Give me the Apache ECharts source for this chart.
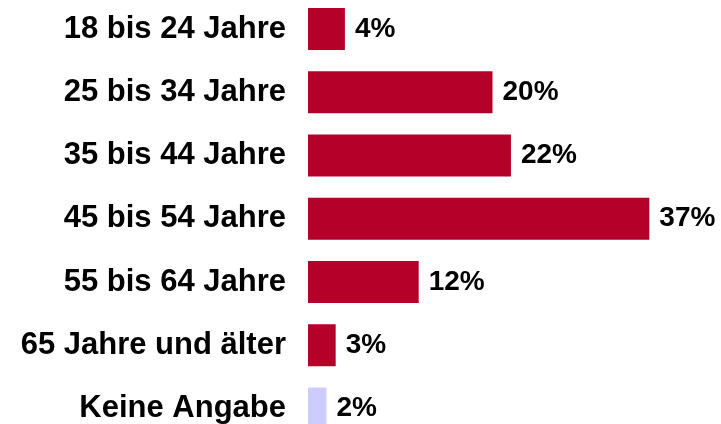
<!DOCTYPE html>
<html>
<head>
<meta charset="utf-8">
<script src="https://cdn.jsdelivr.net/npm/echarts@6/dist/echarts.min.js"></script>
<style>
  html, body { margin: 0; padding: 0; background: #fff; }
  #chart { width: 721px; height: 424px; }
</style>
</head>
<body>
<div id="chart"></div>
<script>
// Altersgruppen, von oben nach unten
var categories = ['18 bis 24 Jahre', '25 bis 34 Jahre', '35 bis 44 Jahre', '45 bis 54 Jahre',
                  '55 bis 64 Jahre', '65 Jahre und älter', 'Keine Angabe'];
var values = [4, 20, 22, 37, 12, 3, 2];
var barColors = ['#B5002A', '#B5002A', '#B5002A', '#B5002A', '#B5002A', '#B5002A', '#CCCCFF'];

var chart = echarts.init(document.getElementById('chart'));

chart.setOption({
    animation: false,
    grid: {
        left: 308,
        right: 44,
        top: 29,
        bottom: 15
    },
    xAxis: {
        type: 'value',
        min: 0,
        max: 40,
        show: false
    },
    yAxis: {
        type: 'category',
        data: categories,
        inverse: true,
        boundaryGap: false,
        axisLine: { show: false },
        axisTick: { show: false },
        splitLine: { show: false },
        axisLabel: {
            margin: 22,
            color: '#000',
            fontFamily: 'Liberation Sans, Arial, sans-serif',
            fontWeight: 'bold',
            fontSize: 31
        }
    },
    series: [{
        type: 'bar',
        barWidth: 42,
        clip: false,
        data: values.map(function (v, i) {
            return { value: v, itemStyle: { color: barColors[i] } };
        }),
        label: {
            show: true,
            position: 'right',
            distance: 10,
            formatter: '{c}%',
            color: '#000',
            fontFamily: 'Liberation Sans, Arial, sans-serif',
            fontWeight: 'bold',
            fontSize: 28
        }
    }]
});
</script>
</body>
</html>
